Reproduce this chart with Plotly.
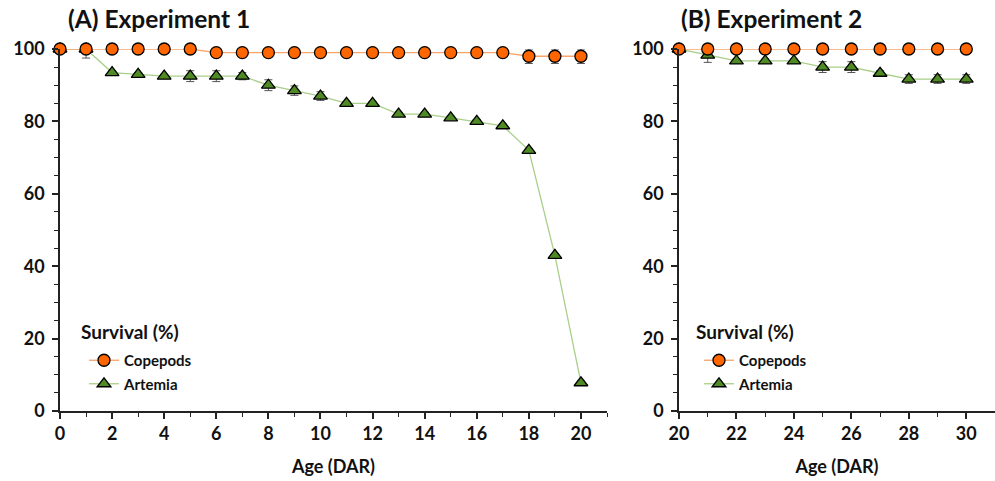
import plotly.graph_objects as go

# Panel A data (Experiment 1)
days_a = list(range(0, 21))
cope_a = [100, 100, 100, 100, 100, 100, 99, 99, 99, 99, 99, 99, 99, 99, 99, 99, 99, 99, 98, 98, 98]
cope_a_err = [0, 0, 0, 0, 0, 0, 0, 0, 0, 0, 0, 0, 0, 0, 0, 0, 0, 0, 2, 2, 2]
art_a = [100, 100, 93.5, 93, 92.5, 92.5, 92.5, 92.5, 90, 88.5, 87, 85, 85, 82, 82, 81, 80, 78.8, 72, 43, 7.8]
art_a_err = [0, 2.5, 0.5, 0.5, 0.5, 1.5, 1.5, 1, 1.5, 1.3, 1.2, 0.5, 0.5, 0.5, 0.5, 0.5, 0.5, 0.5, 0.5, 0.5, 0.5]

# Panel B data (Experiment 2)
days_b = list(range(20, 31))
cope_b = [100] * 11
cope_b_err = [0] * 11
art_b = [100, 98.3, 96.7, 96.7, 96.7, 95, 95, 93.3, 91.7, 91.7, 91.7]
art_b_err = [0, 2, 0.5, 0.5, 0.5, 1.5, 1.5, 0.7, 1.2, 1.2, 1.2]

ORANGE_FILL = "#FF6600"
ORANGE_LINE = "#F8A46A"
GREEN_FILL = "#4F8A24"
GREEN_LINE = "#A9CF8A"
FONT = "Lato"
TXT = "#111111"

fig = go.Figure()

def add_pair(x, yc, ec, ya, ea, xaxis, yaxis, legend):
    fig.add_trace(go.Scatter(
        x=x, y=ya, name="Artemia", mode="lines+markers",
        line=dict(color=GREEN_LINE, width=1.3),
        marker=dict(symbol="triangle-up", size=12, color=GREEN_FILL, line=dict(color="black", width=1.3)),
        error_y=dict(type="data", array=ea, color="#555555", thickness=1, width=4),
        xaxis=xaxis, yaxis=yaxis, legend=legend, legendgroup=legend + "a",
        cliponaxis=False, legendrank=2))
    fig.add_trace(go.Scatter(
        x=x, y=yc, name="Copepods", mode="lines+markers",
        line=dict(color=ORANGE_LINE, width=1.3),
        marker=dict(symbol="circle", size=12, color=ORANGE_FILL, line=dict(color="black", width=1.3)),
        error_y=dict(type="data", array=ec, color="#555555", thickness=1, width=4),
        xaxis=xaxis, yaxis=yaxis, legend=legend, legendgroup=legend + "c",
        cliponaxis=False, legendrank=1))

add_pair(days_a, cope_a, cope_a_err, art_a, art_a_err, "x", "y", "legend")
add_pair(days_b, cope_b, cope_b_err, art_b, art_b_err, "x2", "y2", "legend2")

tickfont = dict(family=FONT, size=18, color=TXT, weight="bold")
common_axis = dict(showline=True, linecolor="#222222", linewidth=1.5, ticks="outside",
                   ticklen=6, tickwidth=1.5, tickcolor="#222222", showgrid=False, zeroline=False,
                   tickfont=tickfont, automargin=False)
minor_x = dict(dtick=1, ticks="outside", ticklen=4, tickcolor="#222222", tickwidth=1.2)
minor_y = dict(dtick=5, ticks="outside", ticklen=4, tickcolor="#222222", tickwidth=1.2)
xtitle_font = dict(family=FONT, size=18, color=TXT, weight="bold")
leg_title_font = dict(family=FONT, size=19, color=TXT, weight="bold")
leg_font = dict(family=FONT, size=15, color=TXT, weight="bold")

ydom = [1 - 411 / 481, 1 - 49 / 481]

leg_common = dict(xanchor="left", yanchor="top", font=leg_font, bgcolor="rgba(0,0,0,0)",
                  tracegroupgap=1, itemwidth=30, traceorder="grouped")

fig.update_layout(
    width=995, height=481,
    margin=dict(l=0, r=0, t=0, b=0),
    paper_bgcolor="white", plot_bgcolor="white",
    xaxis=dict(domain=[60 / 995, 607 / 995], range=[0, 21], dtick=2, tick0=0, anchor="y",
               minor=minor_x, title=dict(text="Age (DAR)", font=xtitle_font, standoff=17),
               **common_axis),
    yaxis=dict(domain=ydom, range=[0, 100], dtick=20, anchor="x", minor=minor_y,
               ticklabelstandoff=4, **common_axis),
    xaxis2=dict(domain=[679 / 995, 995 / 995], range=[20, 31], anchor="y2",
                tickvals=list(range(20, 31, 2)),
                minor=minor_x, title=dict(text="Age (DAR)", font=xtitle_font, standoff=17),
                **common_axis),
    yaxis2=dict(domain=ydom, range=[0, 100], dtick=20, anchor="x2", minor=minor_y,
                ticklabelstandoff=4, **common_axis),
    legend=dict(x=84 / 995, y=1 - 344 / 481, **leg_common),
    legend2=dict(x=699 / 995, y=1 - 344 / 481, **leg_common),
    annotations=[
        dict(text="(A) Experiment 1", x=66 / 995, y=1 - 18 / 481, xref="paper", yref="paper",
             xanchor="left", yanchor="middle", showarrow=False,
             font=dict(family=FONT, size=24.5, color=TXT, weight="bold")),
        dict(text="(B) Experiment 2", x=679 / 995, y=1 - 18 / 481, xref="paper", yref="paper",
             xanchor="left", yanchor="middle", showarrow=False,
             font=dict(family=FONT, size=24.5, color=TXT, weight="bold")),
        dict(text="Survival (%)", x=79 / 995, y=1 - 331 / 481, xref="paper", yref="paper",
             xanchor="left", yanchor="middle", showarrow=False, font=leg_title_font),
        dict(text="Survival (%)", x=694 / 995, y=1 - 331 / 481, xref="paper", yref="paper",
             xanchor="left", yanchor="middle", showarrow=False, font=leg_title_font),
    ],
)

fig.write_html("out.html", config={"displayModeBar": False},
               post_script="document.body.style.margin='0';")
